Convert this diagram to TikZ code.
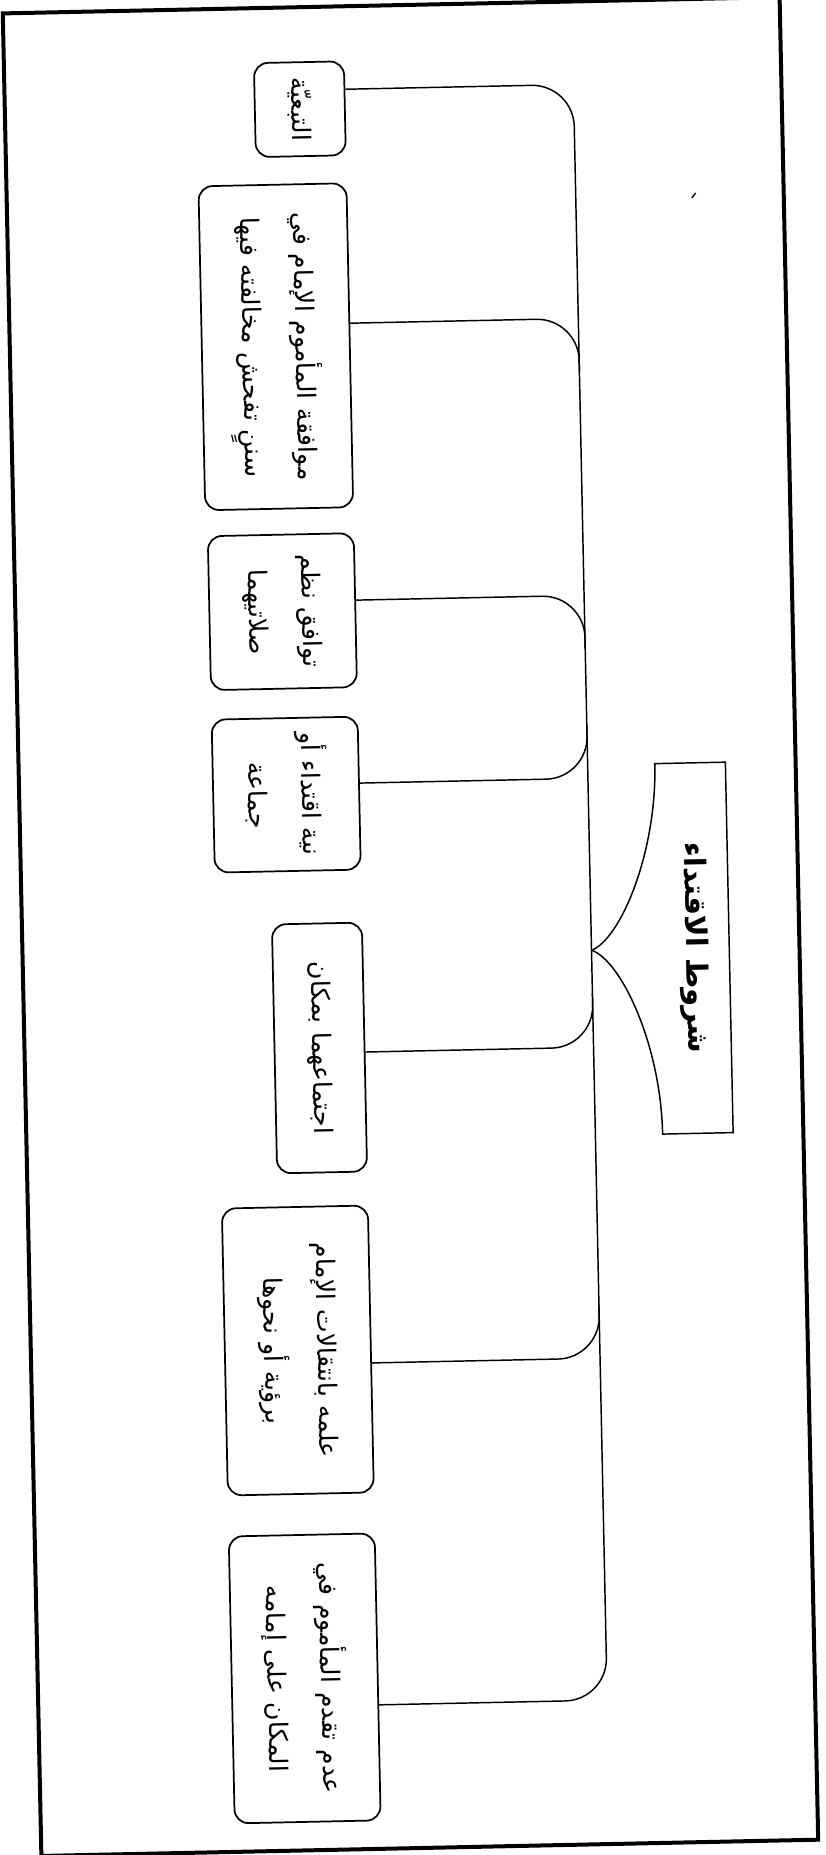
\documentclass[tikz,border=0pt]{standalone}
\usepackage{fontspec}
\newfontfamily\arabicfont[Script=Arabic]{DejaVu Sans}
\TeXXeTstate=1
\begin{document}
\begin{tikzpicture}[x=0.75pt,y=0.75pt,
  box/.style={draw, line width=1.3pt, rounded corners=10.5pt, rotate=-90, inner sep=3pt, align=center,
    font=\arabicfont\fontsize{19}{40}\selectfont},
  conn/.style={line width=1.1pt, rounded corners=31.5pt},
  titlebox/.style={rotate=-90, inner sep=0pt, minimum width=277.5pt, minimum height=52.5pt,
    font=\arabicfont\bfseries\fontsize{22}{26}\selectfont}]
\useasboundingbox (0,0) rectangle (825,-1855);
\begin{scope}[transform canvas={rotate around={1.2:(412.5,-927.5)}}]
  % frame
  \draw[line width=3pt] (22,-5) rectangle (799,-1848);
  % boxes
  \node[box, minimum width=70.5pt, minimum height=67.5pt, text width=62pt] (b1) at (317,-107)
    {\beginR التبعيّة\endR};
  \node[box, minimum width=243pt, minimum height=111pt, text width=234pt] (b2) at (288,-344)
    {\beginR موافقة المأموم الإمام في\endR\\\beginR سننٍ تفحش مخالفته فيها\endR};
  \node[box, minimum width=115.5pt, minimum height=109.5pt, text width=108pt] (b3) at (289,-609)
    {\beginR توافق نظم\endR\\\beginR صلاتيهما\endR};
  \node[box, minimum width=114.75pt, minimum height=109.5pt, text width=108pt] (b4) at (289,-792)
    {\beginR نية اقتداء أو\endR\\\beginR جماعة\endR};
  \node[box, minimum width=186.75pt, minimum height=67.5pt, text width=178pt] (b5) at (317,-1046)
    {\beginR اجتماعهما بمكان\endR};
  \node[box, minimum width=215.25pt, minimum height=109.5pt, text width=206pt] (b6) at (289,-1348)
    {\beginR علمه بانتقالات الإمام\endR\\\beginR برؤية أو نحوها\endR};
  \node[box, minimum width=215.25pt, minimum height=109.5pt, text width=206pt] (b7) at (289,-1676)
    {\beginR عدم تقدم المأموم في\endR\\\beginR المكان على إمامه\endR};
  % title
  \node[titlebox] (t) at (693.5,-954) {\beginR شروط الاقتداء\endR};
  \coordinate (tip) at (591,-954);
  \draw[line width=1.1pt] (tip) .. controls +(28.5,10) and +(0,-91) .. (t.south west)
    -- (t.north west) -- (t.north east) -- (t.south east)
    .. controls +(0,91) and +(28.5,-10) .. (tip);
  % spine and connectors
  \coordinate (s1) at (591,-88);
  \coordinate (s7) at (591,-1704);
  \draw[conn] (b1.north |- s1) -- (s1) -- (s7) -- (b7.north |- s7);
  \coordinate (s2) at (591,-322);  \coordinate (j2) at (591,-375);
  \coordinate (s3) at (591,-599);  \coordinate (j3) at (591,-652);
  \coordinate (s4) at (591,-782);  \coordinate (j4) at (591,-729);
  \coordinate (s5) at (591,-1051); \coordinate (j5) at (591,-998);
  \coordinate (s6) at (591,-1362); \coordinate (j6) at (591,-1309);
  \draw[conn] (b2.north |- s2) -- (s2) -- (j2);
  \draw[conn] (b3.north |- s3) -- (s3) -- (j3);
  \draw[conn] (b4.north |- s4) -- (s4) -- (j4);
  \draw[conn] (b5.north |- s5) -- (s5) -- (j5);
  \draw[conn] (b6.north |- s6) -- (s6) -- (j6);
  % small stray mark
  \coordinate (m1) at (707,-204);
  \coordinate (m2) at (711,-199);
  \draw[line width=1pt] (m1) -- (m2);
\end{scope}
\end{tikzpicture}
\end{document}
